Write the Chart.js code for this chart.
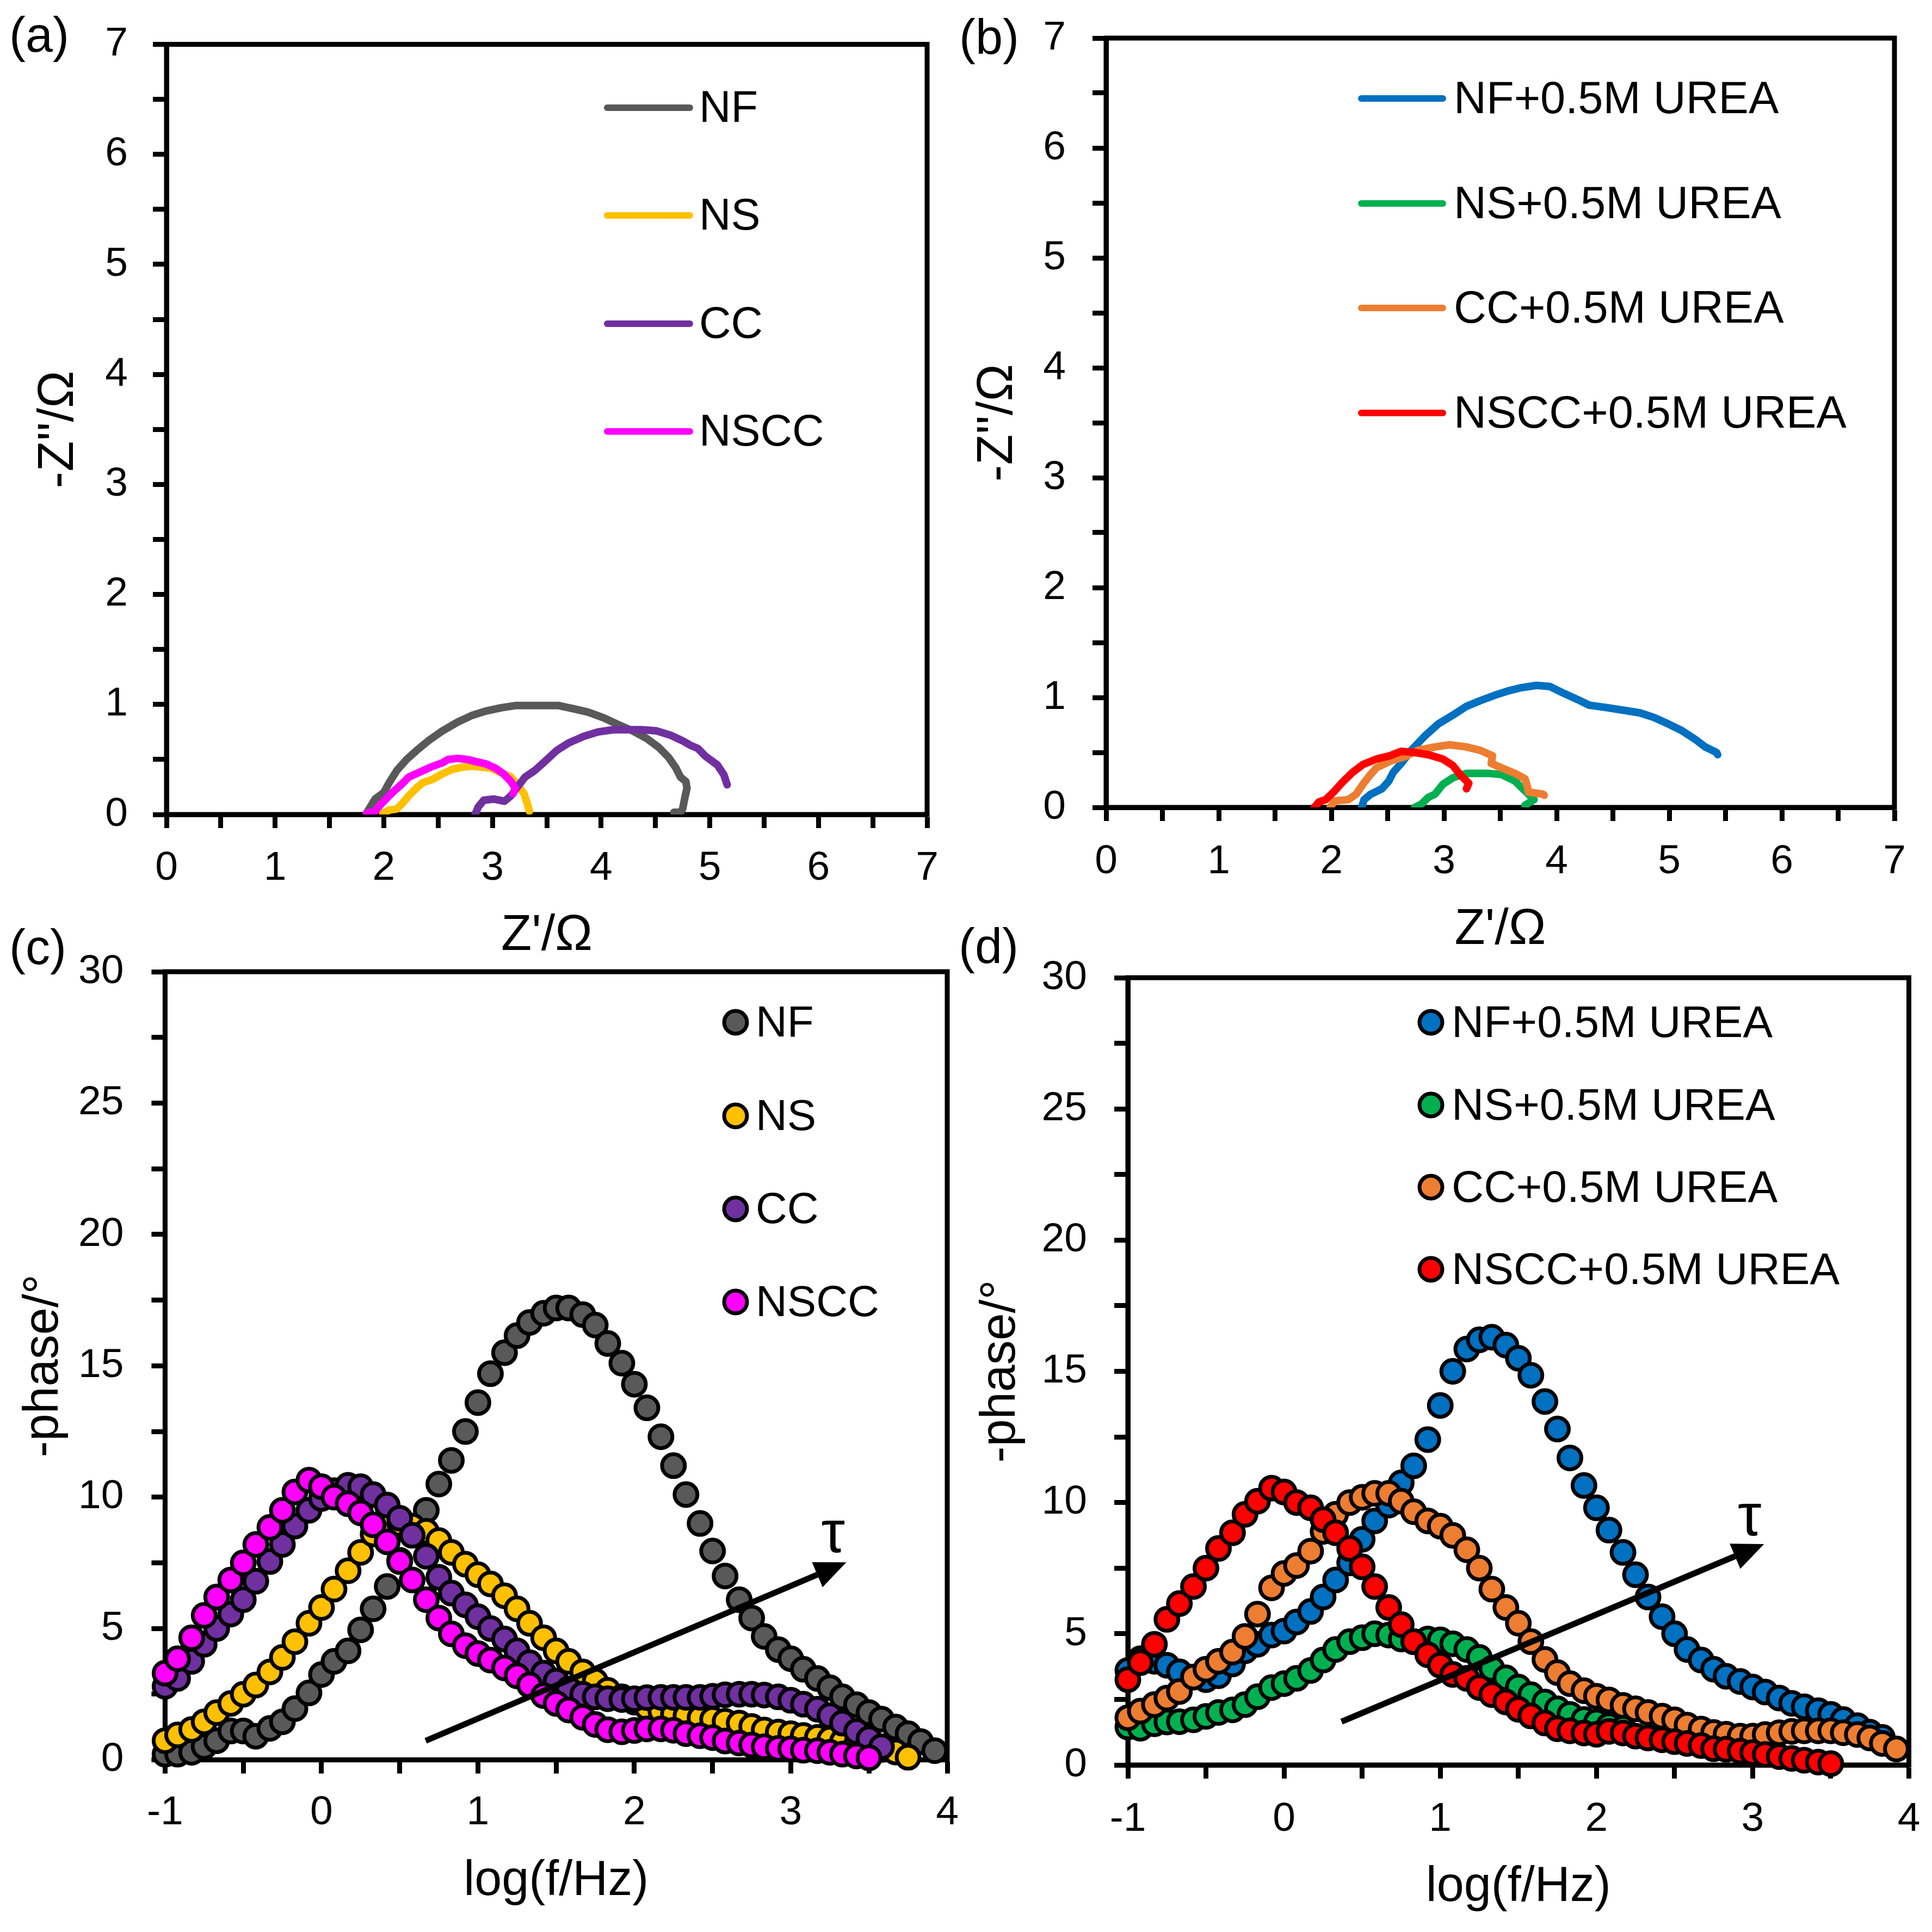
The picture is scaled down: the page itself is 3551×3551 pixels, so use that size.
<!DOCTYPE html>
<html lang="en">

<head>
    <meta charset="UTF-8">
    <title>EIS Nyquist and Bode plots</title>
    <script src="https://cdn.jsdelivr.net/npm/chart.js"></script>
    <style>
        body {
            margin: 0;
            background-color: #fff;
            width: 3551px;
            height: 3551px;
            position: relative;
            overflow: hidden;
        }

        canvas {
            position: absolute;
        }
    </style>
</head>

<body>
    <canvas id="chartA" width="1760" height="1790" style="left:0px;top:0px"></canvas>
    <canvas id="chartB" width="1791" height="1790" style="left:1760px;top:0px"></canvas>
    <canvas id="chartC" width="1790" height="1851" style="left:0px;top:1700px"></canvas>
    <canvas id="chartD" width="1791" height="1851" style="left:1760px;top:1700px"></canvas>

    <script>
        // ---- Nyquist data, panel (a) ----
        const zreNF = [1.84, 1.92, 2.00, 2.05, 2.12, 2.21, 2.30, 2.41, 2.54, 2.68, 2.81, 2.94, 3.08, 3.21, 3.35, 3.48, 3.61, 3.75, 3.88, 4.02, 4.15, 4.29, 4.42, 4.53, 4.62, 4.69, 4.73, 4.78, 4.79, 4.77, 4.75, 4.73, 4.67];
        const zimNF = [0.01, 0.14, 0.20, 0.29, 0.40, 0.50, 0.58, 0.67, 0.76, 0.84, 0.90, 0.94, 0.97, 0.99, 0.99, 0.99, 0.99, 0.96, 0.93, 0.88, 0.82, 0.76, 0.69, 0.61, 0.52, 0.42, 0.34, 0.30, 0.24, 0.15, 0.05, 0.02, 0.02];
        const zreNS = [1.99, 2.05, 2.12, 2.16, 2.23, 2.30, 2.36, 2.45, 2.54, 2.63, 2.72, 2.81, 2.90, 2.99, 3.08, 3.17, 3.23, 3.29, 3.32, 3.34];
        const zimNS = [0.01, 0.04, 0.05, 0.09, 0.17, 0.24, 0.29, 0.32, 0.37, 0.41, 0.43, 0.44, 0.43, 0.42, 0.38, 0.34, 0.27, 0.19, 0.10, 0.03];
        const zreCC = [2.84, 2.87, 2.92, 3.01, 3.11, 3.17, 3.23, 3.30, 3.39, 3.48, 3.59, 3.70, 3.84, 3.97, 4.11, 4.24, 4.37, 4.51, 4.64, 4.75, 4.82, 4.89, 4.96, 5.07, 5.13, 5.16];
        const zimCC = [0.00, 0.07, 0.13, 0.14, 0.12, 0.17, 0.25, 0.34, 0.40, 0.48, 0.58, 0.65, 0.71, 0.75, 0.77, 0.77, 0.77, 0.76, 0.72, 0.67, 0.63, 0.60, 0.53, 0.45, 0.36, 0.27];
        const zreNSCC = [1.84, 1.92, 1.97, 2.03, 2.09, 2.16, 2.23, 2.32, 2.43, 2.54, 2.59, 2.68, 2.77, 2.85, 2.94, 3.03, 3.10, 3.17, 3.21, 3.19];
        const zimNSCC = [0.01, 0.03, 0.09, 0.15, 0.21, 0.27, 0.34, 0.38, 0.43, 0.47, 0.50, 0.51, 0.50, 0.48, 0.46, 0.42, 0.37, 0.30, 0.24, 0.19];

        // ---- Nyquist data, panel (b), with 0.5 M urea ----
        const zreNFU = [2.27, 2.29, 2.35, 2.45, 2.51, 2.55, 2.62, 2.71, 2.83, 2.95, 3.08, 3.20, 3.32, 3.45, 3.57, 3.69, 3.82, 3.94, 4.06, 4.19, 4.29, 4.43, 4.62, 4.74, 4.86, 4.99, 5.11, 5.23, 5.32, 5.42, 5.43];
        const zimNFU = [0.00, 0.07, 0.12, 0.17, 0.24, 0.32, 0.40, 0.52, 0.65, 0.76, 0.84, 0.92, 0.97, 1.02, 1.06, 1.09, 1.11, 1.10, 1.04, 0.98, 0.93, 0.91, 0.88, 0.86, 0.82, 0.76, 0.70, 0.62, 0.55, 0.50, 0.48];
        const zreNSU = [2.74, 2.80, 2.86, 2.92, 2.99, 3.08, 3.20, 3.39, 3.51, 3.63, 3.69, 3.75, 3.80, 3.72];
        const zimNSU = [0.00, 0.03, 0.09, 0.12, 0.21, 0.27, 0.31, 0.31, 0.30, 0.24, 0.18, 0.12, 0.07, 0.02];
        const zreCCU = [1.99, 2.03, 2.15, 2.22, 2.28, 2.34, 2.40, 2.52, 2.65, 2.77, 2.92, 3.05, 3.20, 3.32, 3.43, 3.42, 3.51, 3.63, 3.72, 3.74, 3.75, 3.88, 3.89];
        const zimCCU = [0.00, 0.06, 0.07, 0.12, 0.21, 0.29, 0.36, 0.42, 0.46, 0.52, 0.55, 0.57, 0.55, 0.52, 0.47, 0.40, 0.36, 0.31, 0.26, 0.19, 0.14, 0.12, 0.11];
        const zreNSCCU = [1.85, 1.89, 1.95, 2.02, 2.09, 2.19, 2.28, 2.40, 2.52, 2.62, 2.74, 2.86, 2.99, 3.08, 3.15, 3.22, 3.20];
        const zimNSCCU = [0.00, 0.05, 0.07, 0.14, 0.22, 0.32, 0.39, 0.44, 0.47, 0.51, 0.50, 0.48, 0.44, 0.38, 0.29, 0.22, 0.17];

        // ---- Bode phase data: shared frequency grid, log(f/Hz) ----
        const logF = [-1.00, -0.92, -0.83, -0.75, -0.67, -0.58, -0.50, -0.42, -0.33, -0.25,
            -0.17, -0.08, 0.00, 0.08, 0.17, 0.25, 0.33, 0.42, 0.50, 0.58,
            0.67, 0.75, 0.83, 0.92, 1.00, 1.08, 1.17, 1.25, 1.33, 1.42,
            1.50, 1.58, 1.67, 1.75, 1.83, 1.92, 2.00, 2.08, 2.17, 2.25,
            2.33, 2.42, 2.50, 2.58, 2.67, 2.75, 2.83, 2.92, 3.00, 3.08,
            3.17, 3.25, 3.33, 3.42, 3.50, 3.58, 3.67, 3.75, 3.83, 3.92];

        // panel (c)
        const phaseNF = [0.22, 0.22, 0.29, 0.51, 0.73, 1.1, 1.1, 0.9, 1.2, 1.45,
            1.95, 2.55, 3.25, 3.75, 4.15, 4.95, 5.75, 6.6, 7.6, 8.6,
            9.5, 10.5, 11.4, 12.5, 13.6, 14.7, 15.5, 16.15, 16.65, 17.0,
            17.2, 17.2, 16.95, 16.55, 15.85, 15.1, 14.3, 13.4, 12.3, 11.2,
            10.1, 9.0, 7.95, 7.0, 6.1, 5.4, 4.7, 4.2, 3.85, 3.45,
            3.1, 2.75, 2.4, 2.1, 1.8, 1.55, 1.25, 1.0, 0.7, 0.35];
        const phaseNS = [0.73, 0.95, 1.16, 1.45, 1.8, 2.15, 2.5, 2.85, 3.35, 3.9,
            4.5, 5.2, 5.8, 6.5, 7.2, 7.9, 8.6, 8.9, 9.0, 8.9,
            8.7, 8.35, 7.9, 7.45, 7.05, 6.7, 6.25, 5.75, 5.2, 4.65,
            4.15, 3.75, 3.35, 3.0, 2.65, 2.4, 2.2, 2.0, 1.85, 1.75,
            1.68, 1.6, 1.54, 1.47, 1.4, 1.27, 1.14, 1.06, 1.0, 0.93,
            0.86, 0.79, 0.7, 0.6, 0.5, 0.4, 0.3, 0.1];
        const phaseCC = [2.8, 3.1, 3.75, 4.4, 5.0, 5.55, 6.1, 6.8, 7.55, 8.2,
            8.9, 9.5, 9.95, 10.25, 10.45, 10.4, 10.1, 9.7, 9.2, 8.55,
            7.75, 6.95, 6.35, 5.9, 5.45, 5.0, 4.6, 4.15, 3.7, 3.3,
            3.0, 2.7, 2.5, 2.4, 2.33, 2.3, 2.33, 2.37, 2.38, 2.38,
            2.38, 2.38, 2.42, 2.48, 2.5, 2.5, 2.47, 2.4, 2.27, 2.12,
            1.93, 1.68, 1.4, 1.08, 0.8, 0.5];
        const phaseNSCC = [3.3, 3.85, 4.65, 5.5, 6.2, 6.85, 7.5, 8.2, 8.85, 9.5,
            10.2, 10.65, 10.4, 10.0, 9.75, 9.4, 8.95, 8.3, 7.55, 6.85,
            6.1, 5.4, 4.8, 4.35, 4.05, 3.8, 3.5, 3.2, 2.85, 2.45,
            2.15, 1.9, 1.62, 1.35, 1.15, 1.07, 1.12, 1.18, 1.18, 1.13,
            1.0, 0.92, 0.85, 0.72, 0.64, 0.57, 0.5, 0.44, 0.42, 0.37,
            0.35, 0.29, 0.22, 0.15, 0.08];

        // panel (d)
        const phaseNFU = [3.6, 4.05, 3.95, 3.8, 3.55, 3.35, 3.25, 3.4, 3.85, 4.35,
            4.6, 4.95, 5.1, 5.45, 5.85, 6.4, 7.05, 7.7, 8.6, 9.3,
            9.9, 10.75, 11.4, 12.4, 13.7, 15.0, 15.85, 16.2, 16.3, 16.0,
            15.5, 14.85, 13.85, 12.8, 11.7, 10.65, 9.8, 8.95, 8.1, 7.25,
            6.4, 5.65, 5.0, 4.4, 4.0, 3.65, 3.38, 3.18, 2.97, 2.78,
            2.55, 2.35, 2.22, 2.07, 1.93, 1.73, 1.5, 1.25, 1.05];
        const phaseNSU = [1.45, 1.4, 1.57, 1.64, 1.65, 1.72, 1.85, 2.0, 2.1, 2.3,
            2.6, 2.95, 3.1, 3.3, 3.6, 4.0, 4.4, 4.7, 4.85, 5.0,
            4.95, 4.8, 4.7, 4.8, 4.77, 4.62, 4.4, 4.1, 3.68, 3.32,
            2.97, 2.68, 2.4, 2.14, 1.93, 1.73, 1.64, 1.5, 1.4];
        const phaseCCU = [1.8, 2.05, 2.3, 2.55, 2.8, 3.35, 3.65, 3.95, 4.3, 4.9,
            5.75, 6.75, 7.3, 7.6, 8.15, 8.9, 9.55, 10.0, 10.2, 10.35,
            10.35, 10.05, 9.65, 9.3, 9.1, 8.75, 8.2, 7.5, 6.7, 6.0,
            5.4, 4.7, 4.02, 3.52, 3.1, 2.83, 2.62, 2.48, 2.27, 2.14,
            2.0, 1.86, 1.72, 1.52, 1.37, 1.24, 1.17, 1.1, 1.1, 1.16,
            1.23, 1.28, 1.3, 1.3, 1.3, 1.23, 1.16, 1.03, 0.82, 0.61];
        const phaseNSCCU = [3.25, 3.9, 4.6, 5.55, 6.15, 6.8, 7.5, 8.25, 8.85, 9.55,
            10.05, 10.55, 10.4, 10.0, 9.8, 9.35, 8.85, 8.25, 7.55, 6.8,
            6.0, 5.35, 4.7, 4.2, 3.8, 3.45, 3.3, 2.95, 2.68, 2.4,
            2.12, 1.87, 1.6, 1.38, 1.3, 1.22, 1.17, 1.28, 1.22, 1.1,
            1.03, 0.96, 0.89, 0.82, 0.74, 0.62, 0.6, 0.53, 0.47, 0.4,
            0.32, 0.25, 0.18, 0.11, 0.05];

        const labelsA = ['NF', 'NS', 'CC', 'NSCC'];
        const labelsB = ['NF+0.5M UREA', 'NS+0.5M UREA', 'CC+0.5M UREA', 'NSCC+0.5M UREA'];
        const colorsA = ['#595959', '#FFC000', '#7030A0', '#FF00FF'];
        const colorsB = ['#0070C0', '#00B050', '#ED7D31', '#FF0000'];

        const FONT = "'Liberation Sans', Arial, sans-serif";
        Chart.defaults.font.family = FONT;
        Chart.defaults.color = '#000';

        function pairs(xs, ys) {
            return ys.map((y, i) => ({ x: xs[i], y: y }));
        }

        function lineSet(label, xs, ys, color, order) {
            return {
                label: label, data: pairs(xs, ys), showLine: true,
                borderColor: color, backgroundColor: color, borderWidth: 14,
                pointRadius: 0, pointHoverRadius: 0, tension: 0,
                borderJoinStyle: 'round', borderCapStyle: 'round', order: order
            };
        }

        function dotSet(label, ys, color, order) {
            return {
                label: label, data: pairs(logF, ys), showLine: false,
                backgroundColor: color, borderColor: '#000', borderWidth: 7,
                pointRadius: 21, pointHoverRadius: 21, clip: false, order: order
            };
        }

        function makeAxis(o) {
            return {
                type: 'linear',
                position: o.position,
                min: o.min,
                max: o.max,
                afterFit: function (s) {
                    if (o.position === 'left') s.width = o.size; else s.height = o.size;
                    // the frame position is set by layout.padding only
                    s.paddingTop = 0;
                    s.paddingBottom = 0;
                    s.paddingLeft = 0;
                    s.paddingRight = 0;
                },
                grid: { display: true, drawOnChartArea: false, drawTicks: true, tickLength: 25, tickWidth: 9, tickColor: '#000', color: '#000' },
                border: { display: true, color: '#000', width: 9 },
                ticks: {
                    stepSize: o.step, autoSkip: false, maxRotation: 0, minRotation: 0,
                    padding: o.tickPad, color: '#000', font: { size: 75 },
                    callback: function (v) {
                        const k = v / o.labelEvery;
                        return Math.abs(k - Math.round(k)) < 1e-6 ? String(v) : '';
                    }
                },
                title: {
                    display: true, text: o.title, color: '#000', font: { size: o.titleSize },
                    padding: o.position === 'left' ? { top: o.titlePad, bottom: 0 } : { top: 0, bottom: o.titlePad }
                }
            };
        }

        // closes the frame on the top and right
        const framePlugin = {
            id: 'frame',
            beforeDatasetsDraw(chart) {
                const { ctx, chartArea: a } = chart;
                ctx.save();
                ctx.strokeStyle = '#000';
                ctx.lineWidth = 9;
                ctx.strokeRect(a.left, a.top, a.right - a.left, a.bottom - a.top);
                ctx.restore();
            }
        };

        function legendPlugin(cfg) {
            return {
                id: 'panelLegend',
                afterDatasetsDraw(chart) {
                    const ctx = chart.ctx;
                    ctx.save();
                    ctx.font = cfg.fontSize + 'px ' + FONT;
                    ctx.textBaseline = 'middle';
                    ctx.textAlign = 'left';
                    chart.data.datasets.forEach((ds, i) => {
                        const y = cfg.rows[i];
                        if (cfg.kind === 'line') {
                            ctx.strokeStyle = ds.borderColor;
                            ctx.lineWidth = 12;
                            ctx.lineCap = 'round';
                            ctx.beginPath();
                            ctx.moveTo(cfg.x0, y);
                            ctx.lineTo(cfg.x1, y);
                            ctx.stroke();
                        } else {
                            ctx.fillStyle = ds.backgroundColor;
                            ctx.strokeStyle = '#000';
                            ctx.lineWidth = 7;
                            ctx.beginPath();
                            ctx.arc(cfg.x0, y, 21, 0, Math.PI * 2);
                            ctx.fill();
                            ctx.stroke();
                        }
                        ctx.fillStyle = '#000';
                        ctx.fillText(ds.label, cfg.textX, y + 4);
                    });
                    ctx.restore();
                }
            };
        }

        function tagPlugin(text, x, y) {
            return {
                id: 'panelTag',
                afterDraw(chart) {
                    const ctx = chart.ctx;
                    ctx.save();
                    ctx.font = '90px ' + FONT;
                    ctx.fillStyle = '#000';
                    ctx.textAlign = 'left';
                    ctx.textBaseline = 'alphabetic';
                    ctx.fillText(text, x, y);
                    ctx.restore();
                }
            };
        }

        // the tau arrow, placed in data units
        function arrowPlugin(a) {
            return {
                id: 'tauArrow',
                afterDatasetsDraw(chart) {
                    const { ctx, scales } = chart;
                    const sx = scales.x, sy = scales.y;
                    const x0 = sx.getPixelForValue(a.from[0]), y0 = sy.getPixelForValue(a.from[1]);
                    const x1 = sx.getPixelForValue(a.to[0]), y1 = sy.getPixelForValue(a.to[1]);
                    const ang = Math.atan2(y1 - y0, x1 - x0);
                    const len = 58, half = 25;
                    const bx = x1 - len * Math.cos(ang), by = y1 - len * Math.sin(ang);
                    ctx.save();
                    ctx.strokeStyle = '#000';
                    ctx.fillStyle = '#000';
                    ctx.lineWidth = 11;
                    ctx.beginPath();
                    ctx.moveTo(x0, y0);
                    ctx.lineTo(bx, by);
                    ctx.stroke();
                    ctx.beginPath();
                    ctx.moveTo(x1, y1);
                    ctx.lineTo(bx + half * Math.sin(ang), by - half * Math.cos(ang));
                    ctx.lineTo(bx - half * Math.sin(ang), by + half * Math.cos(ang));
                    ctx.closePath();
                    ctx.fill();
                    ctx.font = '110px ' + FONT;
                    ctx.textAlign = 'center';
                    ctx.textBaseline = 'alphabetic';
                    ctx.fillText('\u03C4', sx.getPixelForValue(a.text[0]), sy.getPixelForValue(a.text[1]));
                    ctx.restore();
                }
            };
        }

        function baseOptions(pad, xAxis, yAxis) {
            return {
                responsive: false,
                animation: false,
                devicePixelRatio: 1,
                events: [],
                layout: { padding: pad },
                scales: { x: xAxis, y: yAxis },
                plugins: { legend: { display: false }, tooltip: { enabled: false } }
            };
        }

        // (a) Nyquist, bare electrodes
        new Chart(document.getElementById('chartA'), {
            type: 'scatter',
            data: {
                datasets: [
                    lineSet(labelsA[0], zreNF, zimNF, colorsA[0], 4),
                    lineSet(labelsA[1], zreNS, zimNS, colorsA[1], 3),
                    lineSet(labelsA[2], zreCC, zimCC, colorsA[2], 2),
                    lineSet(labelsA[3], zreNSCC, zimNSCC, colorsA[3], 1)
                ]
            },
            options: baseOptions({ top: 81.5, right: 56, left: 0, bottom: 0 },
                makeAxis({ position: 'bottom', min: 0, max: 7, step: 0.5, labelEvery: 1, size: 293, tickPad: 29, title: "Z'/\u03A9", titleSize: 92, titlePad: 14 }),
                makeAxis({ position: 'left', min: 0, max: 7, step: 0.5, labelEvery: 1, size: 306, tickPad: 46, title: "-Z''/\u03A9", titleSize: 92, titlePad: 53 })),
            plugins: [framePlugin, legendPlugin({ kind: 'line', x0: 1116, x1: 1268, textX: 1285, rows: [198, 396, 595, 793], fontSize: 81 }), tagPlugin('(a)', 17, 95)]
        });

        // (b) Nyquist, with urea
        new Chart(document.getElementById('chartB'), {
            type: 'scatter',
            data: {
                datasets: [
                    lineSet(labelsB[0], zreNFU, zimNFU, colorsB[0], 4),
                    lineSet(labelsB[1], zreNSU, zimNSU, colorsB[1], 3),
                    lineSet(labelsB[2], zreCCU, zimCCU, colorsB[2], 2),
                    lineSet(labelsB[3], zreNSCCU, zimNSCCU, colorsB[3], 1)
                ]
            },
            options: baseOptions({ top: 70, right: 69, left: 0, bottom: 0 },
                makeAxis({ position: 'bottom', min: 0, max: 7, step: 0.5, labelEvery: 1, size: 306, tickPad: 30, title: "Z'/\u03A9", titleSize: 92, titlePad: 25 }),
                makeAxis({ position: 'left', min: 0, max: 7, step: 0.5, labelEvery: 1, size: 273, tickPad: 49, title: "-Z''/\u03A9", titleSize: 92, titlePad: 19 })),
            plugins: [framePlugin, legendPlugin({ kind: 'line', x0: 742, x1: 892, textX: 912, rows: [181, 374, 566, 759], fontSize: 83 }), tagPlugin('(b)', 3, 99)]
        });

        // (c) Bode phase, bare electrodes
        new Chart(document.getElementById('chartC'), {
            type: 'scatter',
            data: {
                datasets: [
                    dotSet(labelsA[0], phaseNF, colorsA[0], 4),
                    dotSet(labelsA[1], phaseNS, colorsA[1], 3),
                    dotSet(labelsA[2], phaseCC, colorsA[2], 2),
                    dotSet(labelsA[3], phaseNSCC, colorsA[3], 1)
                ]
            },
            options: baseOptions({ top: 86, right: 49, left: 0, bottom: 0 },
                makeAxis({ position: 'bottom', min: -1, max: 4, step: 0.5, labelEvery: 1, size: 316.3, tickPad: 28, title: 'log(f/Hz)', titleSize: 90, titlePad: 39 }),
                makeAxis({ position: 'left', min: 0, max: 30, step: 2.5, labelEvery: 5, size: 303.4, tickPad: 51, title: '-phase/\u00B0', titleSize: 90, titlePad: 27 })),
            plugins: [framePlugin, legendPlugin({ kind: 'dot', x0: 1352, textX: 1389, rows: [179, 351, 522, 693], fontSize: 80 }), tagPlugin('(c)', 17, 72),
                arrowPlugin({ from: [0.666, 0.73], to: [3.355, 7.52], text: [3.27, 7.9] })]
        });

        // (d) Bode phase, with urea
        new Chart(document.getElementById('chartD'), {
            type: 'scatter',
            data: {
                datasets: [
                    dotSet(labelsB[0], phaseNFU, colorsB[0], 4),
                    dotSet(labelsB[1], phaseNSU, colorsB[1], 3),
                    dotSet(labelsB[2], phaseCCU, colorsB[2], 2),
                    dotSet(labelsB[3], phaseNSCCU, colorsB[3], 1)
                ]
            },
            options: baseOptions({ top: 97, right: 42.5, left: 0, bottom: 0 },
                makeAxis({ position: 'bottom', min: -1, max: 4, step: 0.5, labelEvery: 1, size: 307, tickPad: 30, title: 'log(f/Hz)', titleSize: 90, titlePad: 28 }),
                makeAxis({ position: 'left', min: 0, max: 30, step: 2.5, labelEvery: 5, size: 313, tickPad: 50, title: '-phase/\u00B0', titleSize: 90, titlePad: 26 })),
            plugins: [framePlugin, legendPlugin({ kind: 'dot', x0: 870, textX: 908, rows: [179, 331, 482, 633], fontSize: 82 }), tagPlugin('(d)', 2, 70),
                arrowPlugin({ from: [0.368, 1.65], to: [3.073, 8.42], text: [2.98, 8.74] })]
        });
    </script>
</body>

</html>
